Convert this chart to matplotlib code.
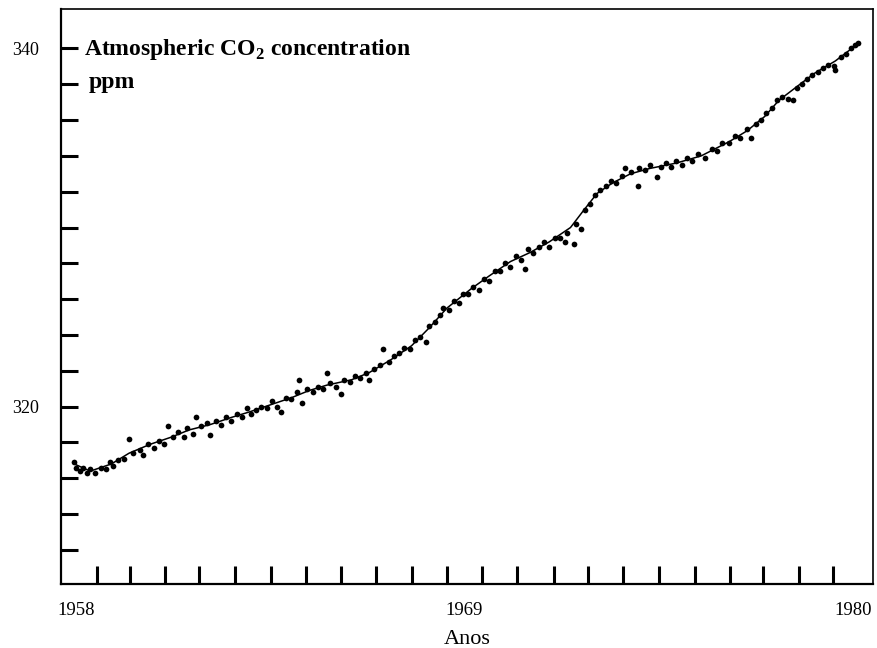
import matplotlib
matplotlib.use("Agg")
import matplotlib.pyplot as plt

plt.rcParams["font.family"] = ["Liberation Serif", "DejaVu Serif"]
plt.rcParams["mathtext.fontset"] = "custom"
plt.rcParams["mathtext.rm"] = "Liberation Serif"
plt.rcParams["mathtext.bf"] = "Liberation Serif:bold"

# smooth fitted curve (year, ppm)
curve_years = [1957.95, 1958.4, 1959.0, 1959.5, 1960.1, 1960.7, 1961.2, 1961.8,
               1962.4, 1962.9, 1963.5, 1964.1, 1964.6, 1965.1, 1965.8, 1966.3,
               1966.9, 1967.5, 1968.0, 1968.5, 1969.2, 1969.7, 1970.3, 1970.85,
               1971.4, 1972.0, 1972.35, 1972.75, 1973.2, 1973.7, 1974.25, 1975.0,
               1975.7, 1976.0, 1976.5, 1977.0, 1977.5, 1977.9, 1978.3, 1978.9,
               1979.5, 1980.1]
curve_ppm = [316.8, 316.4, 316.8, 317.4, 317.9, 318.3, 318.7, 319.0,
             319.4, 319.7, 320.1, 320.5, 320.9, 321.2, 321.5, 321.9,
             322.6, 323.4, 324.4, 325.5, 326.6, 327.3, 328.1, 328.6,
             329.2, 330.0, 330.9, 331.9, 332.5, 333.0, 333.3, 333.6,
             334.0, 334.3, 334.8, 335.4, 336.2, 337.1, 337.7, 338.6,
             339.3, 340.2]

# monthly observations (year, ppm)
obs_years = [
    1957.95, 1958.0, 1958.1, 1958.2, 1958.3, 1958.4, 1958.55, 1958.7, 1958.85, 1958.95,
    1959.05, 1959.2, 1959.35, 1959.5, 1959.6, 1959.8, 1959.9,
    1960.05, 1960.2, 1960.35, 1960.5, 1960.6, 1960.75, 1960.9,
    1961.05, 1961.15, 1961.3, 1961.4, 1961.55, 1961.7, 1961.8, 1961.95,
    1962.1, 1962.25, 1962.4, 1962.55, 1962.7, 1962.85, 1962.95,
    1963.1, 1963.25, 1963.4, 1963.55, 1963.7, 1963.8, 1963.95,
    1964.1, 1964.25, 1964.3, 1964.4, 1964.55, 1964.7, 1964.85,
    1965.0, 1965.1, 1965.2, 1965.35, 1965.5, 1965.6, 1965.75, 1965.9,
    1966.05, 1966.2, 1966.3, 1966.45, 1966.6, 1966.7, 1966.85,
    1967.0, 1967.15, 1967.3, 1967.45, 1967.6, 1967.75, 1967.9,
    1968.0, 1968.15, 1968.3, 1968.4, 1968.55, 1968.7, 1968.85, 1968.95,
    1969.1, 1969.25, 1969.4, 1969.55, 1969.7, 1969.85,
    1970.0, 1970.15, 1970.3, 1970.45, 1970.6, 1970.7, 1970.8, 1970.95,
    1971.1, 1971.25, 1971.4, 1971.55, 1971.7, 1971.85, 1971.9,
    1972.1, 1972.15, 1972.3, 1972.4, 1972.55, 1972.7, 1972.85,
    1973.0, 1973.15, 1973.3, 1973.45, 1973.55, 1973.7, 1973.9, 1973.95,
    1974.1, 1974.25, 1974.45, 1974.55, 1974.7, 1974.85,
    1975.0, 1975.15, 1975.3, 1975.45, 1975.6, 1975.8,
    1976.0, 1976.15, 1976.3, 1976.5, 1976.65, 1976.8,
    1977.0, 1977.1, 1977.25, 1977.4, 1977.55, 1977.7, 1977.85,
    1978.0, 1978.15, 1978.3, 1978.4, 1978.55, 1978.7, 1978.85,
    1979.0, 1979.15, 1979.3, 1979.45, 1979.5, 1979.65, 1979.8, 1979.95,
    1980.05, 1980.15,
]
obs_ppm = [
    316.9, 316.6, 316.4, 316.6, 316.3, 316.5, 316.3, 316.6, 316.5, 316.9,
    316.7, 317.0, 317.1, 318.2, 317.4, 317.6, 317.3,
    317.9, 317.7, 318.1, 317.9, 318.9, 318.3, 318.6,
    318.3, 318.8, 318.5, 319.4, 318.9, 319.1, 318.4, 319.2,
    319.0, 319.4, 319.2, 319.6, 319.4, 319.9, 319.6,
    319.8, 320.0, 319.9, 320.3, 320.0, 319.7, 320.5,
    320.4, 320.8, 321.5, 320.2, 321.0, 320.8, 321.1,
    321.0, 321.9, 321.3, 321.1, 320.7, 321.5, 321.4, 321.7,
    321.6, 321.9, 321.5, 322.1, 322.3, 323.2, 322.5,
    322.8, 323.0, 323.3, 323.2, 323.7, 323.9, 323.6,
    324.5, 324.7, 325.1, 325.5, 325.4, 325.9, 325.8, 326.3,
    326.3, 326.7, 326.5, 327.1, 327.0, 327.6,
    327.6, 328.0, 327.8, 328.4, 328.2, 327.7, 328.8, 328.6,
    328.9, 329.2, 328.9, 329.4, 329.4, 329.2, 329.7,
    329.1, 330.2, 329.9, 331.0, 331.3, 331.8, 332.1,
    332.3, 332.6, 332.5, 332.9, 333.3, 333.1, 332.3, 333.3,
    333.2, 333.5, 332.8, 333.4, 333.6, 333.4,
    333.7, 333.5, 333.9, 333.7, 334.1, 333.9,
    334.4, 334.3, 334.7, 334.7, 335.1, 335.0,
    335.5, 335.0, 335.8, 336.0, 336.4, 336.7, 337.1,
    337.3, 337.2, 337.1, 337.8, 338.0, 338.3, 338.5,
    338.7, 338.9, 339.1, 339.0, 338.8, 339.5, 339.7, 340.0,
    340.2, 340.3,
]

y_ticks = [312, 314, 316, 318, 320, 322, 324, 326, 328, 330, 332, 334, 336, 338, 340]
y_labels = {320: "320", 340: "340"}
x_label_years = [1958, 1969, 1980]
x_tick_years = [1958.59, 1959.53, 1960.52, 1961.48, 1962.50, 1963.52, 1964.51,
                1965.50, 1966.49, 1967.51, 1968.50, 1969.50, 1970.49, 1971.53,
                1972.50, 1973.49, 1974.51, 1975.53, 1976.52, 1977.45, 1978.47,
                1979.43]

fig = plt.figure(figsize=(8.77, 6.48), dpi=100)
ax = fig.add_axes([0.0696, 0.0988, 0.9258, 0.8873])

ax.plot(curve_years, curve_ppm, color="black", linewidth=1.1)
ax.scatter(obs_years, obs_ppm, s=17, color="black", linewidths=0, zorder=3)

ax.set_xlim(1957.575, 1980.565)
ax.set_ylim(310.1, 342.2)

ax.set_yticks(y_ticks)
ax.set_yticklabels([y_labels.get(t, "") for t in y_ticks])
ax.tick_params(axis="y", direction="in", length=12, width=2.2, pad=16,
               labelsize=13)

ax.set_xticks(x_label_years)
ax.set_xticklabels([str(y) for y in x_label_years])
ax.set_xticks(x_tick_years, minor=True)
ax.tick_params(axis="x", which="major", length=0, pad=13, labelsize=13.5)
ax.tick_params(axis="x", which="minor", direction="in", length=13, width=2.2)
ax.tick_params(top=False, right=False)

ax.spines["left"].set_linewidth(1.6)
ax.spines["bottom"].set_linewidth(1.6)
ax.spines["top"].set_linewidth(1.2)
ax.spines["right"].set_linewidth(1.2)

ax.set_xlabel("Anos", fontsize=16, labelpad=8)

ax.text(0.028, 0.92, r"Atmospheric CO$_{\mathbf{2}}$ concentration",
        transform=ax.transAxes, fontsize=17, fontweight="bold", va="baseline")
ax.text(0.034, 0.862, "ppm", transform=ax.transAxes, fontsize=17,
        fontweight="bold", va="baseline")

fig.savefig("out.png", dpi=100)
